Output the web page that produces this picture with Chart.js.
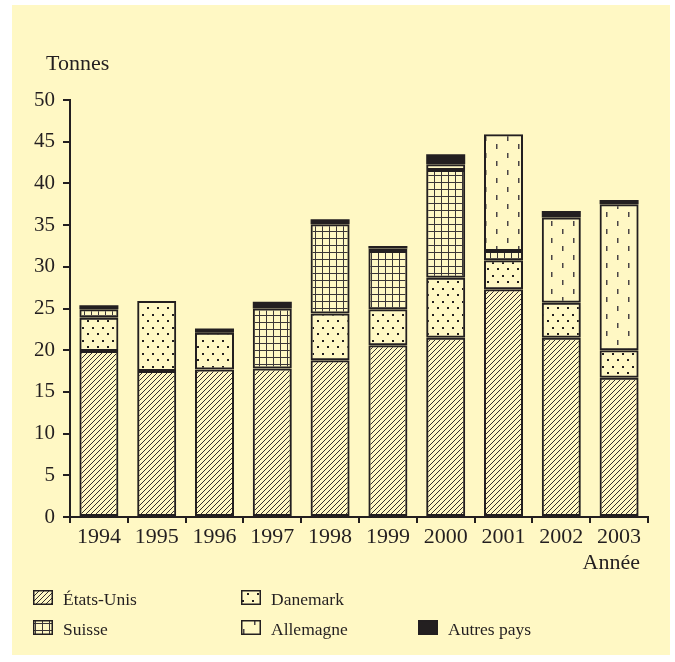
<!DOCTYPE html>
<html>
<head>
<meta charset="utf-8">
<script src="https://cdn.jsdelivr.net/npm/chart.js@4.4.0/dist/chart.umd.min.js"></script>
<style>
  html, body { margin: 0; padding: 0; background: #ffffff; }
</style>
</head>
<body>
<canvas id="graphique" width="675" height="662"></canvas>
<script>
// données (tonnes)
const annees = ["1994", "1995", "1996", "1997", "1998", "1999", "2000", "2001", "2002", "2003"];
const etatsUnis = [19.9, 17.5, 17.7, 17.8, 18.8, 20.6, 21.5, 27.3, 21.5, 16.7];
const danemark  = [4.0, 8.4, 4.4, 0, 5.6, 4.3, 7.2, 3.5, 4.2, 3.3];
const suisse    = [1.0, 0, 0, 7.2, 10.7, 7.0, 12.9, 1.1, 0, 0];
const allemagne = [0, 0, 0, 0, 0, 0.3, 0.7, 14.0, 10.2, 17.5];
const autres    = [0.5, 0, 0.5, 0.8, 0.6, 0.3, 1.2, 0, 0.8, 0.5];
const ticksY = [0, 5, 10, 15, 20, 25, 30, 35, 40, 45, 50];

const encre = "#231f20";
const fond = "#fff8c4";
const police = '"Liberation Serif", "DejaVu Serif", serif';

const canvas = document.getElementById("graphique");
const ctx = canvas.getContext("2d");

// petits motifs de remplissage
function motif(w, h, dessin) {
    const c = document.createElement("canvas");
    c.width = w;
    c.height = h;
    const g = c.getContext("2d");
    dessin(g);
    return ctx.createPattern(c, "repeat");
}

const hachures = motif(5, 5, function (g) {
    g.strokeStyle = "#332e2f";
    g.lineWidth = 1;
    g.beginPath();
    g.moveTo(-1, 6); g.lineTo(6, -1);
    g.moveTo(-6, 6); g.lineTo(1, -1);
    g.moveTo(4, 6); g.lineTo(11, -1);
    g.stroke();
});
const points = motif(10, 13, function (g) {
    g.fillStyle = encre;
    g.fillRect(2, 2, 2, 2);
    g.fillRect(7, 8, 2, 2);
});
const quadrillage = motif(7, 7, function (g) {
    g.fillStyle = "#3b3637";
    g.fillRect(0, 0, 7, 1);
    g.fillRect(0, 0, 1, 7);
});
const tirets = motif(22, 17, function (g) {
    g.fillStyle = "#4a4546";
    g.fillRect(1, 0, 1.5, 5);
    g.fillRect(12, 8, 1.5, 5);
});

function sansZero(v) { return v === 0 ? null : v; }

function serie(label, valeurs, remplissage, bord) {
    return {
        label: label,
        data: valeurs.map(sansZero),
        backgroundColor: remplissage,
        borderColor: encre,
        borderWidth: bord,
        borderSkipped: false,
        categoryPercentage: 1,
        barPercentage: 0.675
    };
}

// fond jaune + textes
const decor = {
    id: "decor",
    beforeDraw: function (chart) {
        const c = chart.ctx;
        c.save();
        c.fillStyle = "#ffffff";
        c.fillRect(0, 0, chart.width, chart.height);
        c.fillStyle = fond;
        c.fillRect(12, 5, 658, 650);
        c.restore();
    },
    afterDraw: function (chart) {
        const c = chart.ctx;
        c.save();
        c.fillStyle = encre;
        c.font = "22px " + police;
        c.textBaseline = "alphabetic";
        c.textAlign = "left";
        c.fillText("Tonnes", 46, 70);
        c.textAlign = "right";
        c.fillText("Année", 640, 569);

        // légende
        const pos = [[33, 590], [241, 590], [33, 620], [241, 620], [418, 620]];
        c.font = "17.5px " + police;
        c.textAlign = "left";
        chart.data.datasets.forEach(function (ds, i) {
            const x = pos[i][0], y = pos[i][1];
            c.fillStyle = fond;
            c.fillRect(x, y, 20, 15);
            c.fillStyle = ds.backgroundColor;
            c.fillRect(x, y, 20, 15);
            c.strokeStyle = encre;
            c.lineWidth = 1.5;
            c.strokeRect(x + 0.75, y + 0.75, 18.5, 13.5);
            c.fillStyle = encre;
            c.fillText(ds.label, x + 30, y + 15);
        });
        c.restore();
    }
};

new Chart(ctx, {
    type: "bar",
    data: {
        labels: annees,
        datasets: [
            serie("États-Unis", etatsUnis, hachures, 2),
            serie("Danemark", danemark, points, 2),
            serie("Suisse", suisse, quadrillage, 2),
            serie("Allemagne", allemagne, tirets, 2),
            serie("Autres pays", autres, encre, 0)
        ]
    },
    options: {
        responsive: false,
        animation: false,
        layout: { padding: { left: 0, top: 100, right: 27, bottom: 105 } },
        plugins: { legend: { display: false }, tooltip: { enabled: false } },
        scales: {
            x: {
                stacked: true,
                grid: { offset: true, drawOnChartArea: false, tickLength: 6, color: encre, lineWidth: 2 },
                border: { color: encre, width: 2 },
                ticks: { color: encre, font: { family: police, size: 22 }, padding: 1, maxRotation: 0, autoSkip: false },
                afterFit: function (s) { s.height = 40; }
            },
            y: {
                stacked: true,
                min: 0,
                max: 50,
                afterBuildTicks: function (s) { s.ticks = ticksY.map(function (v) { return { value: v }; }); },
                grid: { drawOnChartArea: false, tickLength: 7, color: encre, lineWidth: 2 },
                border: { color: encre, width: 2 },
                ticks: { color: encre, font: { family: police, size: 21 }, padding: 8 },
                afterFit: function (s) { s.width = 70; }
            }
        }
    },
    plugins: [decor]
});
</script>
</body>
</html>
